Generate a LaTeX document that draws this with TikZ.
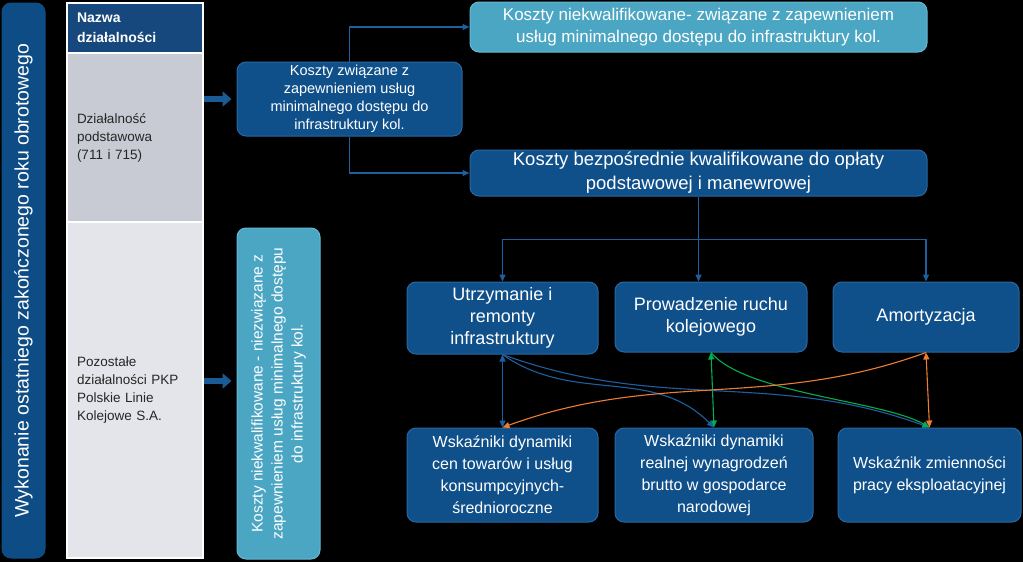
\documentclass[tikz,border=0pt]{standalone}
\usepackage{fontspec}
\setmainfont{Liberation Sans}
\usetikzlibrary{arrows.meta}
\definecolor{boxblue}{RGB}{16,80,138}
\definecolor{boxedge}{RGB}{42,102,160}
\definecolor{lightteal}{RGB}{75,166,196}
\definecolor{tealedge}{RGB}{104,184,210}
\definecolor{headblue}{RGB}{22,72,125}
\definecolor{rowgrey}{RGB}{200,203,211}
\definecolor{rowlight}{RGB}{227,229,234}
\definecolor{barblue}{RGB}{14,76,134}
\definecolor{linkblue}{RGB}{30,95,160}
\definecolor{fatblue}{RGB}{26,91,150}
\definecolor{lgreen}{RGB}{0,176,80}
\definecolor{lorange}{RGB}{237,125,49}

\begin{document}
\begin{tikzpicture}[x=1pt, y=1pt, every node/.style={inner sep=2pt},
	box/.style={draw=boxedge, fill=boxblue, line width=1pt, rounded corners=9pt, text=white, align=center},
	tealbox/.style={box, draw=tealedge, fill=lightteal},
	cell/.style={draw=white, line width=1.5pt, minimum width=136pt, text width=116pt, align=left, text=black!85, font=\fontsize{13.5}{18}\selectfont},
	link/.style={draw=linkblue, line width=1.1pt, -{Triangle[length=7pt,width=6pt]}},
	fat/.style={draw=fatblue, line width=6pt, -{Triangle[length=9pt,width=15pt]}, shorten >=5pt},
	tip/.style={{Triangle[length=7pt,width=6pt]}-{Triangle[length=7pt,width=6pt]}, line width=1.1pt}]
	\fill[black] (0,0) rectangle (1023,-562);
	\useasboundingbox (0,0) rectangle (1023,-562);
	\node[box, draw=barblue, fill=barblue, rotate=90, minimum width=555pt, minimum height=43pt, font=\fontsize{19.5}{22}\selectfont] (bar) at (23.5,-280.5) {Wykonanie ostatniego zakończonego roku obrotowego};
	\node[cell, fill=headblue, text=white, minimum height=50pt, font=\fontsize{14}{20}\selectfont\bfseries] (head) at (135,-28) {Nazwa\\działalności};
	\node[cell, fill=rowgrey, minimum height=169pt] (row1) at (135,-137.5) {Działalność\\podstawowa\\(711 i 715)};
	\node[cell, fill=rowlight, minimum height=336pt] (row2) at (135,-390) {Pozostałe\\działalności PKP\\Polskie Linie\\Kolejowe S.A.};
	\node[box, minimum width=225pt, minimum height=74pt, font=\fontsize{14.5}{18}\selectfont] (costs) at (349.5,-99) {Koszty związane z\\zapewnieniem usług\\minimalnego dostępu do\\infrastruktury kol.};
	\node[tealbox, minimum width=457pt, minimum height=50pt, font=\fontsize{17}{22}\selectfont] (unqual) at (698.5,-27) {Koszty niekwalifikowane- związane z zapewnieniem\\usług minimalnego dostępu do infrastruktury kol.};
	\node[box, minimum width=457pt, minimum height=46pt, font=\fontsize{18.5}{24}\selectfont] (direct) at (698.5,-173) {Koszty bezpośrednie kwalifikowane do opłaty\\podstawowej i manewrowej};
	\node[tealbox, rotate=90, minimum width=331pt, minimum height=83pt, font=\fontsize{15.5}{20}\selectfont] (other) at (278.5,-393.5) {Koszty niekwalifikowane - niezwiązane z\\zapewnieniem usług minimalnego dostępu\\do infrastruktury kol.};
	\node[box, minimum width=191pt, minimum height=72pt, font=\fontsize{18}{22}\selectfont] (maint) at (502.5,-318) {Utrzymanie i\\remonty\\infrastruktury};
	\node[box, minimum width=192pt, minimum height=70pt, font=\fontsize{18}{22}\selectfont] (traffic) at (711,-317) {Prowadzenie ruchu\\kolejowego};
	\node[box, minimum width=186pt, minimum height=70pt, font=\fontsize{18}{22}\selectfont] (amort) at (926,-317) {Amortyzacja};
	\node[box, minimum width=191pt, minimum height=94pt, font=\fontsize{16}{22}\selectfont] (prices) at (502.5,-475) {Wskaźniki dynamiki\\cen towarów i usług\\konsumpcyjnych-\\średnioroczne};
	\node[box, minimum width=198pt, minimum height=94pt, font=\fontsize{16}{22}\selectfont] (wages) at (714,-475) {Wskaźniki dynamiki\\realnej wynagrodzeń\\brutto w gospodarce\\narodowej};
	\node[box, minimum width=183pt, minimum height=94pt, font=\fontsize{16}{22}\selectfont] (work) at (929.5,-475) {Wskaźnik zmienności\\pracy eksploatacyjnej};
	\draw[fat] (row1.east |- costs.west) -- (costs.west);
	\draw[fat] ([yshift=9pt]row2.east) -- ([yshift=9pt]row2.east -| other.north);
	\draw[link] (costs.north) |- (unqual.west);
	\draw[link] (costs.south) |- (direct.west);
	\coordinate (bus) at ([yshift=-43pt]direct.south);
	\draw[link] (direct.south) -- (bus) -| (maint.north);
	\draw[link] (bus) -| (amort.north);
	\draw[link] (direct.south) -- (direct.south |- traffic.north);
	\draw[tip, linkblue] (maint.south) -- (prices.north);
	\draw[tip, lgreen] (traffic.south) -- (wages.north);
	\draw[tip, lorange] (amort.south) -- (work.north);
	\draw[link] (maint.south) to[out=-35, in=135] (wages.north);
	\draw[link] (maint.south) to[out=-20, in=160] (work.north);
	\draw[link, draw=lgreen] (traffic.south) to[out=-50, in=150, looseness=0.6] (work.north);
	\draw[link, draw=lorange] (amort.south) to[out=200, in=20] (prices.north);
\end{tikzpicture}
\end{document}
